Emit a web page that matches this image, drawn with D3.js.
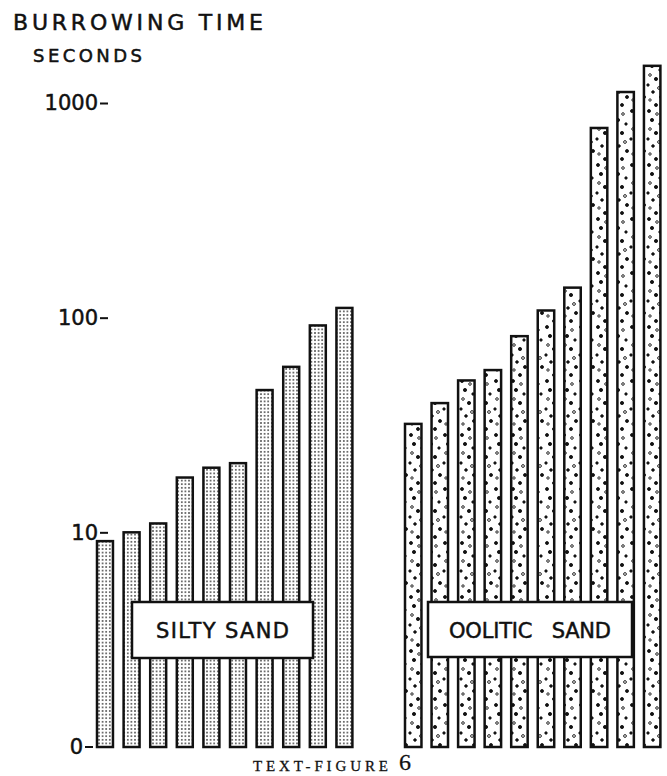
<!DOCTYPE html>
<html>
<head>
<meta charset="utf-8">
<script src="https://cdn.jsdelivr.net/npm/d3@7/dist/d3.min.js"></script>
<style>
  html, body { margin: 0; padding: 0; background: #fff; }
  svg { display: block; }
  .lettering { font-family: "DejaVu Sans", sans-serif; fill: #111; stroke: #111; stroke-width: 0.5; white-space: pre; }
  .caption { font-family: "Liberation Serif", "DejaVu Serif", serif; fill: #111; stroke: #111; stroke-width: 0.3; }
</style>
</head>
<body>
<svg id="chart" width="667" height="776"></svg>
<script>
// burrowing time (seconds)
var silty_ids = ['S1', 'S2', 'S3', 'S4', 'S5', 'S6', 'S7', 'S8', 'S9', 'S10'];
var silty_times = [9.1, 10, 11, 18, 20, 21, 46, 59, 92, 111];

var oolitic_ids = ['O1', 'O2', 'O3', 'O4', 'O5', 'O6', 'O7', 'O8', 'O9', 'O10'];
var oolitic_times = [32, 40, 51, 57, 82, 108, 138, 765, 1125, 1490];

var tick_values = [1, 10, 100, 1000];
var tick_labels = ['0', '10', '100', '1000'];

draw_chart();

function draw_chart(){
    var svg = d3.select('#chart');
    var base_y = 747;

    var y_scale = d3.scaleLog()
        .domain([1, 1000])
        .range([base_y, 103]);

    var x_silty = d3.scaleBand()
        .domain(silty_ids)
        .range([97, 352.4])
        .paddingInner(0.4)
        .paddingOuter(0);

    var x_oolitic = d3.scaleBand()
        .domain(oolitic_ids)
        .range([405, 660.4])
        .paddingInner(0.38)
        .paddingOuter(0);

    make_patterns(svg);

    // title
    svg.append('text')
        .attr('class', 'lettering')
        .attr('x', 13).attr('y', 30)
        .attr('font-size', 22)
        .attr('textLength', 250).attr('lengthAdjust', 'spacing')
        .text('BURROWING TIME');
    svg.append('text')
        .attr('class', 'lettering')
        .attr('x', 33).attr('y', 62)
        .attr('font-size', 18)
        .attr('textLength', 109).attr('lengthAdjust', 'spacing')
        .text('SECONDS');

    // y axis, no domain line, labels with a short dash
    var y_axis = svg.append('g')
        .attr('transform', 'translate(108, 0)')
        .call(d3.axisLeft(y_scale)
            .tickValues(tick_values)
            .tickFormat(function(d, i){ return tick_labels[i]; })
            .tickSize(8)
            .tickPadding(2));
    y_axis.select('.domain').remove();
    y_axis.selectAll('.tick line').attr('stroke', '#111').attr('stroke-width', 2);
    y_axis.selectAll('.tick text')
        .attr('class', 'lettering')
        .attr('font-size', 21);
    // the hand-lettered "0-" sits further left
    y_axis.selectAll('.tick').filter(function(d){ return d === 1; })
        .attr('transform', 'translate(-15,' + y_scale(1) + ')');

    // bars
    svg.append('g').selectAll('rect')
        .data(silty_times)
        .join('rect')
        .attr('x', function(d, i){ return x_silty(silty_ids[i]); })
        .attr('y', function(d){ return y_scale(d); })
        .attr('width', x_silty.bandwidth())
        .attr('height', function(d){ return base_y - y_scale(d); })
        .attr('fill', 'url(#silt)')
        .attr('stroke', '#111')
        .attr('stroke-width', 2.5);

    svg.append('g').selectAll('rect')
        .data(oolitic_times)
        .join('rect')
        .attr('x', function(d, i){ return x_oolitic(oolitic_ids[i]); })
        .attr('y', function(d){ return y_scale(d); })
        .attr('width', x_oolitic.bandwidth())
        .attr('height', function(d){ return base_y - y_scale(d); })
        .attr('fill', 'url(#oolite)')
        .attr('stroke', '#111')
        .attr('stroke-width', 2.5);

    // group labels
    label_box(svg, 132, 602, 181, 56, 'SILTY SAND', 133);
    label_box(svg, 428, 602, 204, 55, 'OOLITIC   SAND', 162);

    // caption
    svg.append('text')
        .attr('class', 'caption')
        .attr('x', 253).attr('y', 771)
        .attr('font-size', 15)
        .attr('textLength', 135).attr('lengthAdjust', 'spacing')
        .text('TEXT-FIGURE');
    svg.append('text')
        .attr('class', 'caption')
        .attr('x', 399).attr('y', 770)
        .attr('font-size', 24)
        .text('6');
}

function label_box(svg, x, y, w, h, label, text_len){
    var g = svg.append('g');
    g.append('rect')
        .attr('x', x).attr('y', y)
        .attr('width', w).attr('height', h)
        .attr('fill', '#fff')
        .attr('stroke', '#111')
        .attr('stroke-width', 2.5);
    g.append('text')
        .attr('class', 'lettering')
        .attr('x', x + w / 2).attr('y', y + h / 2 + 8)
        .attr('text-anchor', 'middle')
        .attr('font-size', 21)
        .attr('textLength', text_len).attr('lengthAdjust', 'spacing')
        .text(label);
}

function make_patterns(svg){
    var defs = svg.append('defs');

    // fine stipple for silty sand
    var silt = defs.append('pattern')
        .attr('id', 'silt')
        .attr('patternUnits', 'userSpaceOnUse')
        .attr('width', 3.6).attr('height', 3.6);
    silt.append('rect').attr('width', 3.6).attr('height', 3.6).attr('fill', '#fff');
    silt.append('circle').attr('cx', 1.8).attr('cy', 1.8).attr('r', 0.8).attr('fill', '#222');

    // coarse grains for oolitic sand
    var grains = [
        [3, 3, 1.5, 1], [11, 6, 1.3, 0], [6, 12, 1.6, 1], [14, 16, 1.2, 1],
        [4, 21, 1.3, 0], [10, 25, 1.6, 1], [2, 31, 1.2, 1], [13, 34, 1.4, 0],
        [7, 38, 1.3, 1], [15, 43, 1.5, 1], [4, 46, 1.2, 0], [10, 51, 1.5, 1]
    ];
    var oolite = defs.append('pattern')
        .attr('id', 'oolite')
        .attr('patternUnits', 'userSpaceOnUse')
        .attr('width', 17).attr('height', 54);
    oolite.append('rect').attr('width', 17).attr('height', 54).attr('fill', '#fff');
    oolite.selectAll('circle')
        .data(grains)
        .join('circle')
        .attr('cx', function(d){ return d[0]; })
        .attr('cy', function(d){ return d[1]; })
        .attr('r', function(d){ return d[2]; })
        .attr('fill', function(d){ return d[3] ? '#111' : 'none'; })
        .attr('stroke', '#111')
        .attr('stroke-width', 0.9);
}
</script>
</body>
</html>
